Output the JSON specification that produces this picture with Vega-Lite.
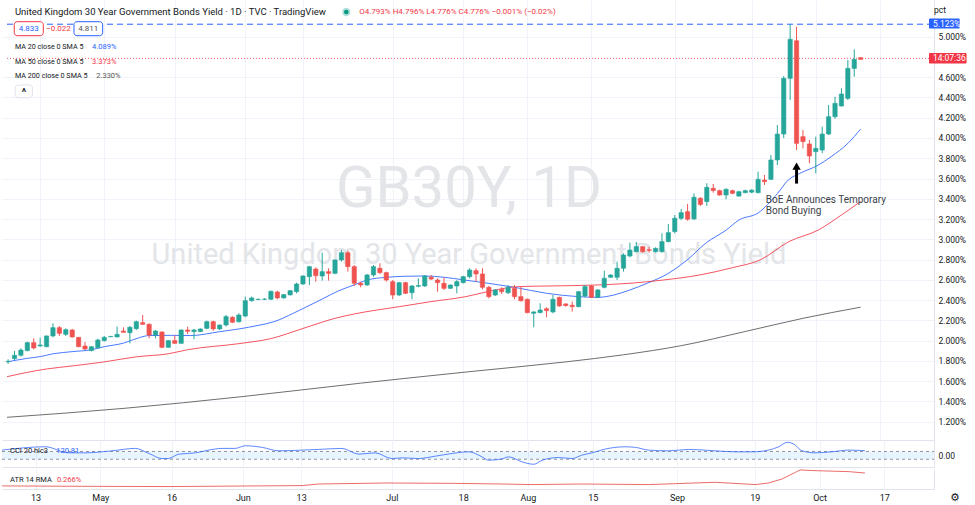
{
"$schema":"https://vega.github.io/schema/vega-lite/v6.json",
"padding":0,"spacing":0,"background":"white",
"config":{"view":{"stroke":null},"font":"Roboto","text":{"font":"Roboto"},
 "axis":{"labelFont":"Roboto","labelColor":"#131722","labelFontSize":9,"ticks":false,"domainColor":"#e0e3eb","gridColor":"#f0f3fa","title":null}},
"datasets":{
"ohlc":[
{"i":-5,"o":1.792,"h":1.815,"l":1.770,"c":1.795},{"i":-4,"o":1.822,"h":1.898,"l":1.809,"c":1.855},{"i":-3,"o":1.855,"h":1.924,"l":1.842,"c":1.907},{"i":-2,"o":1.901,"h":1.990,"l":1.895,"c":1.980},{"i":-1,"o":1.980,"h":2.023,"l":1.914,"c":1.927},
{"i":0,"o":1.947,"h":2.029,"l":1.940,"c":1.957},{"i":1,"o":1.940,"h":2.050,"l":1.935,"c":2.046},{"i":2,"o":2.046,"h":2.171,"l":2.032,"c":2.128},{"i":3,"o":2.128,"h":2.144,"l":2.046,"c":2.072},{"i":4,"o":2.062,"h":2.121,"l":2.046,"c":2.108},
{"i":5,"o":2.105,"h":2.115,"l":2.030,"c":2.036},{"i":6,"o":2.032,"h":2.036,"l":1.935,"c":1.940},{"i":7,"o":1.947,"h":1.986,"l":1.907,"c":1.917},{"i":8,"o":1.901,"h":1.945,"l":1.895,"c":1.940},{"i":9,"o":1.930,"h":2.019,"l":1.920,"c":2.006},
{"i":10,"o":2.000,"h":2.046,"l":1.990,"c":2.032},{"i":11,"o":2.038,"h":2.045,"l":2.034,"c":2.042},{"i":12,"o":2.036,"h":2.138,"l":2.032,"c":2.062},{"i":13,"o":2.095,"h":2.131,"l":2.079,"c":2.082},{"i":14,"o":2.078,"h":2.144,"l":1.973,"c":2.131},
{"i":15,"o":2.118,"h":2.197,"l":2.105,"c":2.187},{"i":16,"o":2.177,"h":2.253,"l":2.154,"c":2.161},{"i":17,"o":2.161,"h":2.171,"l":2.023,"c":2.055},{"i":18,"o":2.055,"h":2.105,"l":2.023,"c":2.095},{"i":19,"o":2.085,"h":2.092,"l":1.924,"c":1.934},
{"i":20,"o":1.934,"h":2.005,"l":1.930,"c":2.000},{"i":21,"o":2.000,"h":2.052,"l":1.970,"c":1.973},{"i":22,"o":1.973,"h":2.110,"l":1.970,"c":2.105},{"i":23,"o":2.105,"h":2.138,"l":2.066,"c":2.092},{"i":24,"o":2.089,"h":2.115,"l":2.013,"c":2.105},
{"i":25,"o":2.089,"h":2.120,"l":2.085,"c":2.115},{"i":26,"o":2.121,"h":2.197,"l":2.112,"c":2.187},{"i":27,"o":2.187,"h":2.197,"l":2.098,"c":2.115},{"i":28,"o":2.115,"h":2.160,"l":2.105,"c":2.154},{"i":29,"o":2.154,"h":2.253,"l":2.138,"c":2.237},
{"i":30,"o":2.230,"h":2.240,"l":2.175,"c":2.181},{"i":31,"o":2.187,"h":2.270,"l":2.177,"c":2.253},{"i":32,"o":2.243,"h":2.434,"l":2.230,"c":2.394},{"i":33,"o":2.394,"h":2.434,"l":2.385,"c":2.421},{"i":34,"o":2.405,"h":2.415,"l":2.400,"c":2.408},
{"i":35,"o":2.408,"h":2.418,"l":2.400,"c":2.410},{"i":36,"o":2.408,"h":2.493,"l":2.400,"c":2.487},{"i":37,"o":2.480,"h":2.493,"l":2.408,"c":2.421},{"i":38,"o":2.421,"h":2.460,"l":2.415,"c":2.454},{"i":39,"o":2.451,"h":2.500,"l":2.447,"c":2.493},
{"i":40,"o":2.483,"h":2.572,"l":2.467,"c":2.559},{"i":41,"o":2.559,"h":2.645,"l":2.550,"c":2.638},{"i":42,"o":2.631,"h":2.737,"l":2.549,"c":2.730},{"i":43,"o":2.707,"h":2.723,"l":2.582,"c":2.641},{"i":44,"o":2.638,"h":2.868,"l":2.592,"c":2.681},
{"i":45,"o":2.681,"h":2.714,"l":2.592,"c":2.664},{"i":46,"o":2.664,"h":2.800,"l":2.655,"c":2.796},{"i":47,"o":2.796,"h":2.895,"l":2.780,"c":2.868},{"i":48,"o":2.868,"h":2.888,"l":2.681,"c":2.730},{"i":49,"o":2.730,"h":2.746,"l":2.539,"c":2.566},
{"i":50,"o":2.566,"h":2.582,"l":2.526,"c":2.549},{"i":51,"o":2.549,"h":2.658,"l":2.540,"c":2.648},{"i":52,"o":2.648,"h":2.746,"l":2.631,"c":2.730},{"i":53,"o":2.714,"h":2.763,"l":2.658,"c":2.671},{"i":54,"o":2.671,"h":2.681,"l":2.582,"c":2.598},
{"i":55,"o":2.582,"h":2.598,"l":2.408,"c":2.450},{"i":56,"o":2.450,"h":2.580,"l":2.440,"c":2.572},{"i":57,"o":2.572,"h":2.580,"l":2.460,"c":2.467},{"i":58,"o":2.473,"h":2.549,"l":2.408,"c":2.539},{"i":59,"o":2.536,"h":2.615,"l":2.526,"c":2.543},
{"i":60,"o":2.539,"h":2.648,"l":2.530,"c":2.638},{"i":61,"o":2.625,"h":2.648,"l":2.598,"c":2.608},{"i":62,"o":2.598,"h":2.615,"l":2.483,"c":2.572},{"i":63,"o":2.566,"h":2.625,"l":2.500,"c":2.516},{"i":64,"o":2.516,"h":2.555,"l":2.510,"c":2.549},
{"i":65,"o":2.539,"h":2.598,"l":2.467,"c":2.582},{"i":66,"o":2.572,"h":2.640,"l":2.565,"c":2.631},{"i":67,"o":2.631,"h":2.714,"l":2.615,"c":2.697},{"i":68,"o":2.690,"h":2.714,"l":2.582,"c":2.658},{"i":69,"o":2.658,"h":2.714,"l":2.506,"c":2.526},
{"i":70,"o":2.526,"h":2.539,"l":2.417,"c":2.434},{"i":71,"o":2.450,"h":2.510,"l":2.440,"c":2.500},{"i":72,"o":2.506,"h":2.526,"l":2.460,"c":2.483},{"i":73,"o":2.473,"h":2.549,"l":2.460,"c":2.526},{"i":74,"o":2.516,"h":2.549,"l":2.408,"c":2.434},
{"i":75,"o":2.434,"h":2.533,"l":2.385,"c":2.394},{"i":76,"o":2.408,"h":2.415,"l":2.270,"c":2.276},{"i":77,"o":2.270,"h":2.290,"l":2.131,"c":2.283},{"i":78,"o":2.276,"h":2.368,"l":2.270,"c":2.302},{"i":79,"o":2.315,"h":2.329,"l":2.230,"c":2.296},
{"i":80,"o":2.283,"h":2.450,"l":2.270,"c":2.408},{"i":81,"o":2.427,"h":2.434,"l":2.335,"c":2.342},{"i":82,"o":2.362,"h":2.368,"l":2.335,"c":2.346},{"i":83,"o":2.349,"h":2.385,"l":2.286,"c":2.335},{"i":84,"o":2.335,"h":2.490,"l":2.330,"c":2.483},
{"i":85,"o":2.440,"h":2.549,"l":2.427,"c":2.533},{"i":86,"o":2.539,"h":2.550,"l":2.420,"c":2.427},{"i":87,"o":2.427,"h":2.510,"l":2.420,"c":2.500},{"i":88,"o":2.526,"h":2.690,"l":2.516,"c":2.615},{"i":89,"o":2.625,"h":2.655,"l":2.620,"c":2.648},
{"i":90,"o":2.625,"h":2.779,"l":2.598,"c":2.714},{"i":91,"o":2.714,"h":2.861,"l":2.681,"c":2.845},{"i":92,"o":2.835,"h":2.967,"l":2.822,"c":2.894},{"i":93,"o":2.878,"h":2.975,"l":2.870,"c":2.928},{"i":94,"o":2.927,"h":2.934,"l":2.868,"c":2.878},
{"i":95,"o":2.897,"h":2.927,"l":2.868,"c":2.891},{"i":96,"o":2.878,"h":2.920,"l":2.870,"c":2.911},{"i":97,"o":2.878,"h":3.059,"l":2.868,"c":2.977},{"i":98,"o":2.977,"h":3.150,"l":2.970,"c":3.066},{"i":99,"o":3.076,"h":3.240,"l":3.059,"c":3.208},
{"i":100,"o":3.207,"h":3.300,"l":3.190,"c":3.263},{"i":101,"o":3.273,"h":3.349,"l":3.184,"c":3.198},{"i":102,"o":3.201,"h":3.454,"l":3.190,"c":3.415},{"i":103,"o":3.405,"h":3.415,"l":3.330,"c":3.344},{"i":104,"o":3.372,"h":3.553,"l":3.329,"c":3.513},
{"i":105,"o":3.503,"h":3.546,"l":3.461,"c":3.482},{"i":106,"o":3.480,"h":3.490,"l":3.430,"c":3.437},{"i":107,"o":3.437,"h":3.504,"l":3.395,"c":3.493},{"i":108,"o":3.480,"h":3.490,"l":3.445,"c":3.454},{"i":109,"o":3.427,"h":3.480,"l":3.420,"c":3.470},
{"i":110,"o":3.460,"h":3.490,"l":3.455,"c":3.480},{"i":111,"o":3.465,"h":3.495,"l":3.455,"c":3.485},{"i":112,"o":3.460,"h":3.668,"l":3.454,"c":3.592},{"i":113,"o":3.585,"h":3.635,"l":3.536,"c":3.569},{"i":114,"o":3.592,"h":3.832,"l":3.585,"c":3.783},
{"i":115,"o":3.783,"h":4.128,"l":3.733,"c":4.039},{"i":116,"o":4.039,"h":4.612,"l":4.000,"c":4.589},{"i":117,"o":4.589,"h":5.123,"l":4.375,"c":4.974},{"i":118,"o":4.960,"h":5.099,"l":3.881,"c":3.947},{"i":119,"o":4.013,"h":4.079,"l":3.898,"c":3.964},
{"i":120,"o":3.941,"h":3.980,"l":3.750,"c":3.822},{"i":121,"o":3.865,"h":4.013,"l":3.651,"c":3.898},{"i":122,"o":3.881,"h":4.112,"l":3.850,"c":4.039},{"i":123,"o":4.039,"h":4.326,"l":4.030,"c":4.210},{"i":124,"o":4.210,"h":4.408,"l":4.190,"c":4.342},
{"i":125,"o":4.316,"h":4.490,"l":4.310,"c":4.434},{"i":126,"o":4.391,"h":4.770,"l":4.375,"c":4.687},{"i":127,"o":4.687,"h":4.875,"l":4.605,"c":4.776},{"i":128,"o":4.793,"h":4.796,"l":4.776,"c":4.776}
],
"ma":[
{"ma":"MA 20","i":-5.17,"v":1.79},{"ma":"MA 20","i":-2,"v":1.825},{"ma":"MA 20","i":0,"v":1.842},{"ma":"MA 20","i":2,"v":1.87},{"ma":"MA 20","i":5,"v":1.891},{"ma":"MA 20","i":8,"v":1.91},{"ma":"MA 20","i":10,"v":1.94},{"ma":"MA 20","i":13,"v":1.975},{"ma":"MA 20","i":15.5,"v":2.03},{"ma":"MA 20","i":17,"v":2.05},{"ma":"MA 20","i":20.5,"v":2.052},{"ma":"MA 20","i":23.5,"v":2.05},{"ma":"MA 20","i":28,"v":2.088},{"ma":"MA 20","i":31,"v":2.115},{"ma":"MA 20","i":34,"v":2.15},{"ma":"MA 20","i":36.5,"v":2.187},{"ma":"MA 20","i":39.5,"v":2.27},{"ma":"MA 20","i":41.6,"v":2.335},{"ma":"MA 20","i":44,"v":2.41},{"ma":"MA 20","i":46.5,"v":2.49},{"ma":"MA 20","i":48.8,"v":2.545},{"ma":"MA 20","i":51,"v":2.598},{"ma":"MA 20","i":54,"v":2.625},{"ma":"MA 20","i":57,"v":2.635},{"ma":"MA 20","i":60,"v":2.638},{"ma":"MA 20","i":63,"v":2.625},{"ma":"MA 20","i":66,"v":2.6},{"ma":"MA 20","i":70,"v":2.565},{"ma":"MA 20","i":74,"v":2.526},{"ma":"MA 20","i":79,"v":2.467},{"ma":"MA 20","i":84,"v":2.434},{"ma":"MA 20","i":87,"v":2.427},{"ma":"MA 20","i":89.5,"v":2.45},{"ma":"MA 20","i":92,"v":2.5},{"ma":"MA 20","i":94.7,"v":2.566},{"ma":"MA 20","i":98,"v":2.664},{"ma":"MA 20","i":101,"v":2.8},{"ma":"MA 20","i":104,"v":2.97},{"ma":"MA 20","i":107,"v":3.09},{"ma":"MA 20","i":109,"v":3.19},{"ma":"MA 20","i":112,"v":3.26},{"ma":"MA 20","i":115,"v":3.45},{"ma":"MA 20","i":116.7,"v":3.585},{"ma":"MA 20","i":118.5,"v":3.65},{"ma":"MA 20","i":121.4,"v":3.733},{"ma":"MA 20","i":123.4,"v":3.816},{"ma":"MA 20","i":126,"v":3.947},{"ma":"MA 20","i":128,"v":4.089},
{"ma":"MA 50","i":-5.17,"v":1.644},{"ma":"MA 50","i":1,"v":1.72},{"ma":"MA 50","i":5,"v":1.75},{"ma":"MA 50","i":10,"v":1.79},{"ma":"MA 50","i":15,"v":1.84},{"ma":"MA 50","i":20,"v":1.87},{"ma":"MA 50","i":23,"v":1.91},{"ma":"MA 50","i":31,"v":1.97},{"ma":"MA 50","i":36,"v":2.02},{"ma":"MA 50","i":41,"v":2.12},{"ma":"MA 50","i":46,"v":2.22},{"ma":"MA 50","i":49,"v":2.263},{"ma":"MA 50","i":56,"v":2.335},{"ma":"MA 50","i":61,"v":2.385},{"ma":"MA 50","i":66.4,"v":2.434},{"ma":"MA 50","i":70.5,"v":2.493},{"ma":"MA 50","i":74.6,"v":2.533},{"ma":"MA 50","i":79.2,"v":2.539},{"ma":"MA 50","i":86.9,"v":2.549},{"ma":"MA 50","i":92,"v":2.566},{"ma":"MA 50","i":97.2,"v":2.598},{"ma":"MA 50","i":102.9,"v":2.648},{"ma":"MA 50","i":108,"v":2.72},{"ma":"MA 50","i":112.3,"v":2.796},{"ma":"MA 50","i":116.8,"v":2.977},{"ma":"MA 50","i":121.4,"v":3.092},{"ma":"MA 50","i":125,"v":3.24},{"ma":"MA 50","i":128,"v":3.373},
{"ma":"MA 200","i":-5.17,"v":1.243},{"ma":"MA 200","i":13.2,"v":1.332},{"ma":"MA 200","i":31.5,"v":1.447},{"ma":"MA 200","i":50,"v":1.58},{"ma":"MA 200","i":68,"v":1.70},{"ma":"MA 200","i":82,"v":1.79},{"ma":"MA 200","i":91,"v":1.86},{"ma":"MA 200","i":100,"v":1.95},{"ma":"MA 200","i":110,"v":2.09},{"ma":"MA 200","i":119,"v":2.22},{"ma":"MA 200","i":128,"v":2.33}
],
"cci":[
{"i":-5.17,"v":135},{"i":1.5,"v":221},{"i":5.1,"v":65},{"i":7.7,"v":65},{"i":11.8,"v":117},{"i":15.4,"v":179},{"i":17.5,"v":49},{"i":19.5,"v":-81},{"i":20.5,"v":-81},{"i":22.1,"v":31},{"i":24.7,"v":65},{"i":26.7,"v":135},{"i":28.8,"v":179},{"i":30.8,"v":179},{"i":32.4,"v":247},{"i":35,"v":205},{"i":37.5,"v":117},{"i":41.1,"v":135},{"i":43.7,"v":153},{"i":47.3,"v":179},{"i":49.9,"v":31},{"i":52.4,"v":65},{"i":55,"v":-81},{"i":56.6,"v":-64},{"i":59.1,"v":-81},{"i":61.7,"v":-21},{"i":64.3,"v":49},{"i":66.9,"v":91},{"i":68.9,"v":-38},{"i":69.9,"v":-125},{"i":72,"v":-90},{"i":73,"v":-38},{"i":75.1,"v":-168},{"i":76.9,"v":-229},{"i":78.2,"v":-125},{"i":80.7,"v":-55},{"i":82.8,"v":-81},{"i":84.3,"v":5},{"i":85.9,"v":65},{"i":87.9,"v":161},{"i":91,"v":221},{"i":92.6,"v":205},{"i":94.6,"v":135},{"i":97.7,"v":117},{"i":100.8,"v":153},{"i":104.9,"v":117},{"i":108,"v":91},{"i":110.6,"v":91},{"i":113.1,"v":135},{"i":114.7,"v":221},{"i":116,"v":335},{"i":117,"v":291},{"i":118.3,"v":117},{"i":120.3,"v":65},{"i":122.9,"v":91},{"i":125.5,"v":135},{"i":128,"v":121}
],
"atr":[
{"i":-5.17,"v":0.07},{"i":7.2,"v":0.064},{"i":20.5,"v":0.06},{"i":41.1,"v":0.075},{"i":43.7,"v":0.099},{"i":54,"v":0.114},{"i":64.3,"v":0.109},{"i":72,"v":0.099},{"i":76.6,"v":0.09},{"i":84.3,"v":0.099},{"i":94.6,"v":0.09},{"i":104.9,"v":0.125},{"i":111.1,"v":0.09},{"i":113.1,"v":0.114},{"i":115.2,"v":0.175},{"i":117.3,"v":0.277},{"i":118,"v":0.312},{"i":120.3,"v":0.302},{"i":125.5,"v":0.287},{"i":128,"v":0.266}
]
},
"vconcat":[
{
"width":932,"height":440,
"encoding":{"x":{"field":"i","type":"quantitative","scale":{"domain":[-5.17,138.66],"nice":false,"zero":false},
  "axis":{"orient":"bottom","values":[0,10,21,32,41,55,66,76,86,99,111,121,131],"tickCount":50,"labels":false,"grid":true,"domain":true,"ticks":false}}},
"layer":[
{"data":{"values":[{"i":66.9,"v":3.486,"text":"GB30Y, 1D"}]},"mark":{"type":"text","fontSize":58,"color":"#e3e5e8","align":"center","baseline":"middle"},
 "encoding":{"y":{"field":"v","type":"quantitative"},"text":{"field":"text"}}},
{"data":{"values":[{"i":66.9,"v":2.845,"text":"United Kingdom 30 Year Government Bonds Yield"}]},"mark":{"type":"text","fontSize":29,"color":"#e3e5e8","align":"center","baseline":"middle"},
 "encoding":{"y":{"field":"v","type":"quantitative"},"text":{"field":"text"}}},
{"data":{"name":"ma"},"mark":{"type":"line","strokeWidth":1,"interpolate":"monotone","opacity":0.85},
 "encoding":{"y":{"field":"v","type":"quantitative"},"color":{"field":"ma","type":"nominal","scale":{"domain":["MA 20","MA 50","MA 200"],"range":["#2962ff","#f23645","#555555"]},"legend":null}}},
{"data":{"values":[{"i":-5.17,"i2":138.66,"v":5.123}]},"mark":{"type":"rule","color":"#2962ff","strokeWidth":1,"strokeDash":[6,4]},
 "encoding":{"x2":{"field":"i2"},"y":{"field":"v","type":"quantitative"}}},
{"data":{"values":[{"i":-5.17,"i2":138.66,"v":4.786}]},"mark":{"type":"rule","color":"#f23645","strokeWidth":1,"strokeDash":[1,2],"opacity":0.8},
 "encoding":{"x2":{"field":"i2"},"y":{"field":"v","type":"quantitative"}}},
{"data":{"name":"ohlc"},"mark":{"type":"rule","strokeWidth":1},
 "encoding":{"y":{"field":"l","type":"quantitative","scale":{"domain":[1.019,5.362],"nice":false,"zero":false},
   "axis":{"orient":"right","values":[1.2,1.4,1.6,1.8,2.0,2.2,2.4,2.6,2.8,3.0,3.2,3.4,3.6,3.8,4.0,4.2,4.4,4.6,5.0],"tickCount":50,"labelExpr":"format(datum.value,'.3f')+'%'","labelOverlap":false,"grid":true,"domain":true,"ticks":false,"labelPadding":4,"labelAlign":"left","labelBaseline":"middle","labelFontSize":8.5,"minExtent":43,"maxExtent":43}},
  "y2":{"field":"h"},
  "color":{"condition":{"test":"datum.c >= datum.o","value":"#26a69a"},"value":"#ef5350"}}},
{"data":{"name":"ohlc"},"mark":{"type":"bar","width":4.3,"strokeWidth":0.6},
 "encoding":{"y":{"field":"o","type":"quantitative"},"y2":{"field":"c"},
  "color":{"condition":{"test":"datum.c >= datum.o","value":"#26a69a"},"value":"#ef5350"},
  "stroke":{"condition":{"test":"datum.c >= datum.o","value":"#26a69a"},"value":"#ef5350"}}},
{"data":{"values":[{"i":-3.935,"v":5.2435,"text":"United Kingdom 30 Year Government Bonds Yield · 1D · TVC · TradingView"}]},"mark":{"type":"text","fontSize":9.5,"color":"#131722","align":"left","baseline":"middle"},
 "encoding":{"y":{"field":"v","type":"quantitative"},"text":{"field":"text"}}},
{"data":{"values":[{"i":47.76,"v":5.2435}]},"mark":{"type":"point","filled":true,"color":"#b2dfdb","size":70,"opacity":1},
 "encoding":{"y":{"field":"v","type":"quantitative"}}},
{"data":{"values":[{"i":47.76,"v":5.2435}]},"mark":{"type":"point","filled":true,"color":"#089981","size":22,"opacity":1},
 "encoding":{"y":{"field":"v","type":"quantitative"}}},
{"data":{"values":[{"i":49.77,"v":5.2435,"text":"O4.793% H4.796% L4.776% C4.776% −0.001% (−0.02%)"}]},"mark":{"type":"text","fontSize":8,"color":"#f23645","align":"left","baseline":"middle"},
 "encoding":{"y":{"field":"v","type":"quantitative"},"text":{"field":"text"}}},
{"data":{"values":[{"i":-4.04,"i2":0.494,"v":5.1478,"v2":5.0096}]},"mark":{"type":"rect","fill":"white","stroke":"#f23645","strokeWidth":1,"cornerRadius":3},
 "encoding":{"x2":{"field":"i2"},"y":{"field":"v","type":"quantitative"},"y2":{"field":"v2"}}},
{"data":{"values":[{"i":5.277,"i2":9.753,"v":5.1478,"v2":5.0096}]},"mark":{"type":"rect","fill":"white","stroke":"#2962ff","strokeWidth":1,"cornerRadius":3},
 "encoding":{"x2":{"field":"i2"},"y":{"field":"v","type":"quantitative"},"y2":{"field":"v2"}}},
{"data":{"values":[{"i":-1.775,"v":5.0787,"text":"4.833","k":"a"},{"i":2.855,"v":5.0787,"text":"−0.022","k":"b"},{"i":7.515,"v":5.0787,"text":"4.811","k":"c"}]},
 "mark":{"type":"text","fontSize":8,"align":"center","baseline":"middle"},
 "encoding":{"y":{"field":"v","type":"quantitative"},"text":{"field":"text"},
  "color":{"field":"k","type":"nominal","scale":{"domain":["a","b","c"],"range":["#f23645","#131722","#2962ff"]},"legend":null}}},
{"data":{"values":[{"i":-3.935,"v":4.901,"text":"MA 20 close 0 SMA 5"},{"i":-3.935,"v":4.753,"text":"MA 50 close 0 SMA 5"},{"i":-3.935,"v":4.609,"text":"MA 200 close 0 SMA 5"}]},
 "mark":{"type":"text","fontSize":7.2,"color":"#131722","align":"left","baseline":"middle"},
 "encoding":{"y":{"field":"v","type":"quantitative"},"text":{"field":"text"}}},
{"data":{"values":[{"i":8.1,"v":4.901,"text":"4.089%","ma":"MA 20"},{"i":8.1,"v":4.753,"text":"3.373%","ma":"MA 50"},{"i":8.75,"v":4.609,"text":"2.330%","ma":"MA 200"}]},
 "mark":{"type":"text","fontSize":7.5,"align":"left","baseline":"middle"},
 "encoding":{"y":{"field":"v","type":"quantitative"},"text":{"field":"text"},"color":{"field":"ma","type":"nominal","legend":null}}},
{"data":{"values":[{"i":-3.889,"i2":-1.204,"v":4.523,"v2":4.398}]},"mark":{"type":"rect","fill":"white","stroke":"#e0e3eb","strokeWidth":1,"cornerRadius":3},
 "encoding":{"x2":{"field":"i2"},"y":{"field":"v","type":"quantitative"},"y2":{"field":"v2"}}},
{"data":{"values":[{"i":-2.547,"v":4.461,"text":"^"}]},"mark":{"type":"text","fontSize":10,"fontWeight":"bold","color":"#131722","align":"center","baseline":"middle","dy":2},
 "encoding":{"y":{"field":"v","type":"quantitative"},"text":{"field":"text"}}},
{"data":{"values":[{"i":113.2,"v":3.437,"text":["BoE Announces Temporary","Bond Buying"]}]},"mark":{"type":"text","fontSize":10,"color":"#3c3f49","align":"left","baseline":"top","lineHeight":11},
 "encoding":{"y":{"field":"v","type":"quantitative"},"text":{"field":"text"}}},
{"data":{"values":[{"i":118,"v":3.55,"v2":3.704}]},"mark":{"type":"rule","color":"black","strokeWidth":3},
 "encoding":{"y":{"field":"v","type":"quantitative"},"y2":{"field":"v2"}}},
{"data":{"values":[{"i":118,"v":3.723}]},"mark":{"type":"point","shape":"triangle-up","filled":true,"color":"black","size":70,"opacity":1},
 "encoding":{"y":{"field":"v","type":"quantitative"}}},
{"data":{"values":[{"i":139.43,"v":5.263,"text":"pct"}]},"mark":{"type":"text","fontSize":8.5,"color":"#131722","align":"left","baseline":"middle"},
 "encoding":{"y":{"field":"v","type":"quantitative"},"text":{"field":"text"}}},
{"data":{"values":[{"i":138.66,"i2":143.44,"v":5.179,"v2":5.081}]},"mark":{"type":"rect","fill":"#2962ff","cornerRadius":1},
 "encoding":{"x2":{"field":"i2"},"y":{"field":"v","type":"quantitative"},"y2":{"field":"v2"}}},
{"data":{"values":[{"i":138.66,"i2":144.52,"v":4.839,"v2":4.735}]},"mark":{"type":"rect","fill":"#f23645","cornerRadius":1},
 "encoding":{"x2":{"field":"i2"},"y":{"field":"v","type":"quantitative"},"y2":{"field":"v2"}}},
{"data":{"values":[{"i":139.27,"v":5.13,"text":"5.123%"},{"i":139.27,"v":4.787,"text":"14:07:36"}]},"mark":{"type":"text","fontSize":8.5,"color":"white","align":"left","baseline":"middle"},
 "encoding":{"y":{"field":"v","type":"quantitative"},"text":{"field":"text"}}}
]
},
{
"width":932,"height":27,
"encoding":{"x":{"field":"i","type":"quantitative","scale":{"domain":[-5.17,138.66],"nice":false,"zero":false},
  "axis":{"orient":"bottom","values":[0,10,21,32,41,55,66,76,86,99,111,121,131],"tickCount":50,"labels":false,"grid":true,"domain":true,"ticks":false}}},
"layer":[
{"data":{"values":[{"i":-5.17,"i2":138.66,"lo":-100,"hi":100}]},"mark":{"type":"rect","fill":"#2196f3","opacity":0.1},
 "encoding":{"x2":{"field":"i2"},"y":{"field":"lo","type":"quantitative","scale":{"domain":[-299,395],"nice":false,"zero":false},
   "axis":{"orient":"right","values":[0],"labelExpr":"format(datum.value,'.2f')","grid":false,"domain":true,"ticks":false,"labelPadding":4,"labelAlign":"left","labelBaseline":"middle","labelFontSize":8.5,"minExtent":43,"maxExtent":43}},"y2":{"field":"hi"}}},
{"data":{"values":[{"i":-5.17,"i2":138.66,"v":100},{"i":-5.17,"i2":138.66,"v":-100}]},"mark":{"type":"rule","color":"#787b86","strokeWidth":1,"strokeDash":[3,3],"opacity":0.8},
 "encoding":{"x2":{"field":"i2"},"y":{"field":"v","type":"quantitative"}}},
{"data":{"name":"cci"},"mark":{"type":"line","color":"#2962ff","strokeWidth":1,"interpolate":"monotone","opacity":0.75},
 "encoding":{"y":{"field":"v","type":"quantitative"}}},
{"data":{"values":[{"i":-3.935,"v":109,"text":"CCI 20 hlc3"}]},"mark":{"type":"text","fontSize":7.5,"color":"#131722","align":"left","baseline":"middle"},
 "encoding":{"y":{"field":"v","type":"quantitative"},"text":{"field":"text"}}},
{"data":{"values":[{"i":3.2,"v":109,"text":"120.81"}]},"mark":{"type":"text","fontSize":7.5,"color":"#2962ff","align":"left","baseline":"middle"},
 "encoding":{"y":{"field":"v","type":"quantitative"},"text":{"field":"text"}}}
]
},
{
"width":932,"height":20,
"encoding":{"x":{"field":"i","type":"quantitative","scale":{"domain":[-5.17,138.66],"nice":false,"zero":false},
  "axis":{"orient":"bottom","values":[0,10,21,32,41,55,66,76,86,99,111,121,131],"tickCount":50,
   "labelExpr":"['13','May','16','Jun','13','Jul','18','Aug','15','Sep','19','Oct','17'][indexof([0,10,21,32,41,55,66,76,86,99,111,121,131], datum.value)]",
   "labelPadding":4,"grid":true,"domain":true,"ticks":false,"labelFontSize":9}}},
"layer":[
{"data":{"name":"atr"},"mark":{"type":"line","color":"#e53935","strokeWidth":1,"opacity":0.75},
 "encoding":{"y":{"field":"v","type":"quantitative","scale":{"domain":[0.023,0.327],"nice":false,"zero":false},
   "axis":{"orient":"right","values":[],"grid":false,"domain":true,"ticks":false,"minExtent":43,"maxExtent":43}}}},
{"data":{"values":[{"i":-3.935,"v":0.16,"text":"ATR 14 RMA"}]},"mark":{"type":"text","fontSize":7.5,"color":"#131722","align":"left","baseline":"middle"},
 "encoding":{"y":{"field":"v","type":"quantitative"},"text":{"field":"text"}}},
{"data":{"values":[{"i":3.3,"v":0.16,"text":"0.266%"}]},"mark":{"type":"text","fontSize":7.5,"color":"#f23645","align":"left","baseline":"middle"},
 "encoding":{"y":{"field":"v","type":"quantitative"},"text":{"field":"text"}}},
{"data":{"values":[{"i":141.9,"v":-0.118,"text":"⚙"}]},"mark":{"type":"text","font":"DejaVu Sans","fontSize":11,"color":"#131722","align":"center","baseline":"middle"},
 "encoding":{"y":{"field":"v","type":"quantitative"},"text":{"field":"text"}}}
]
}
]
}
